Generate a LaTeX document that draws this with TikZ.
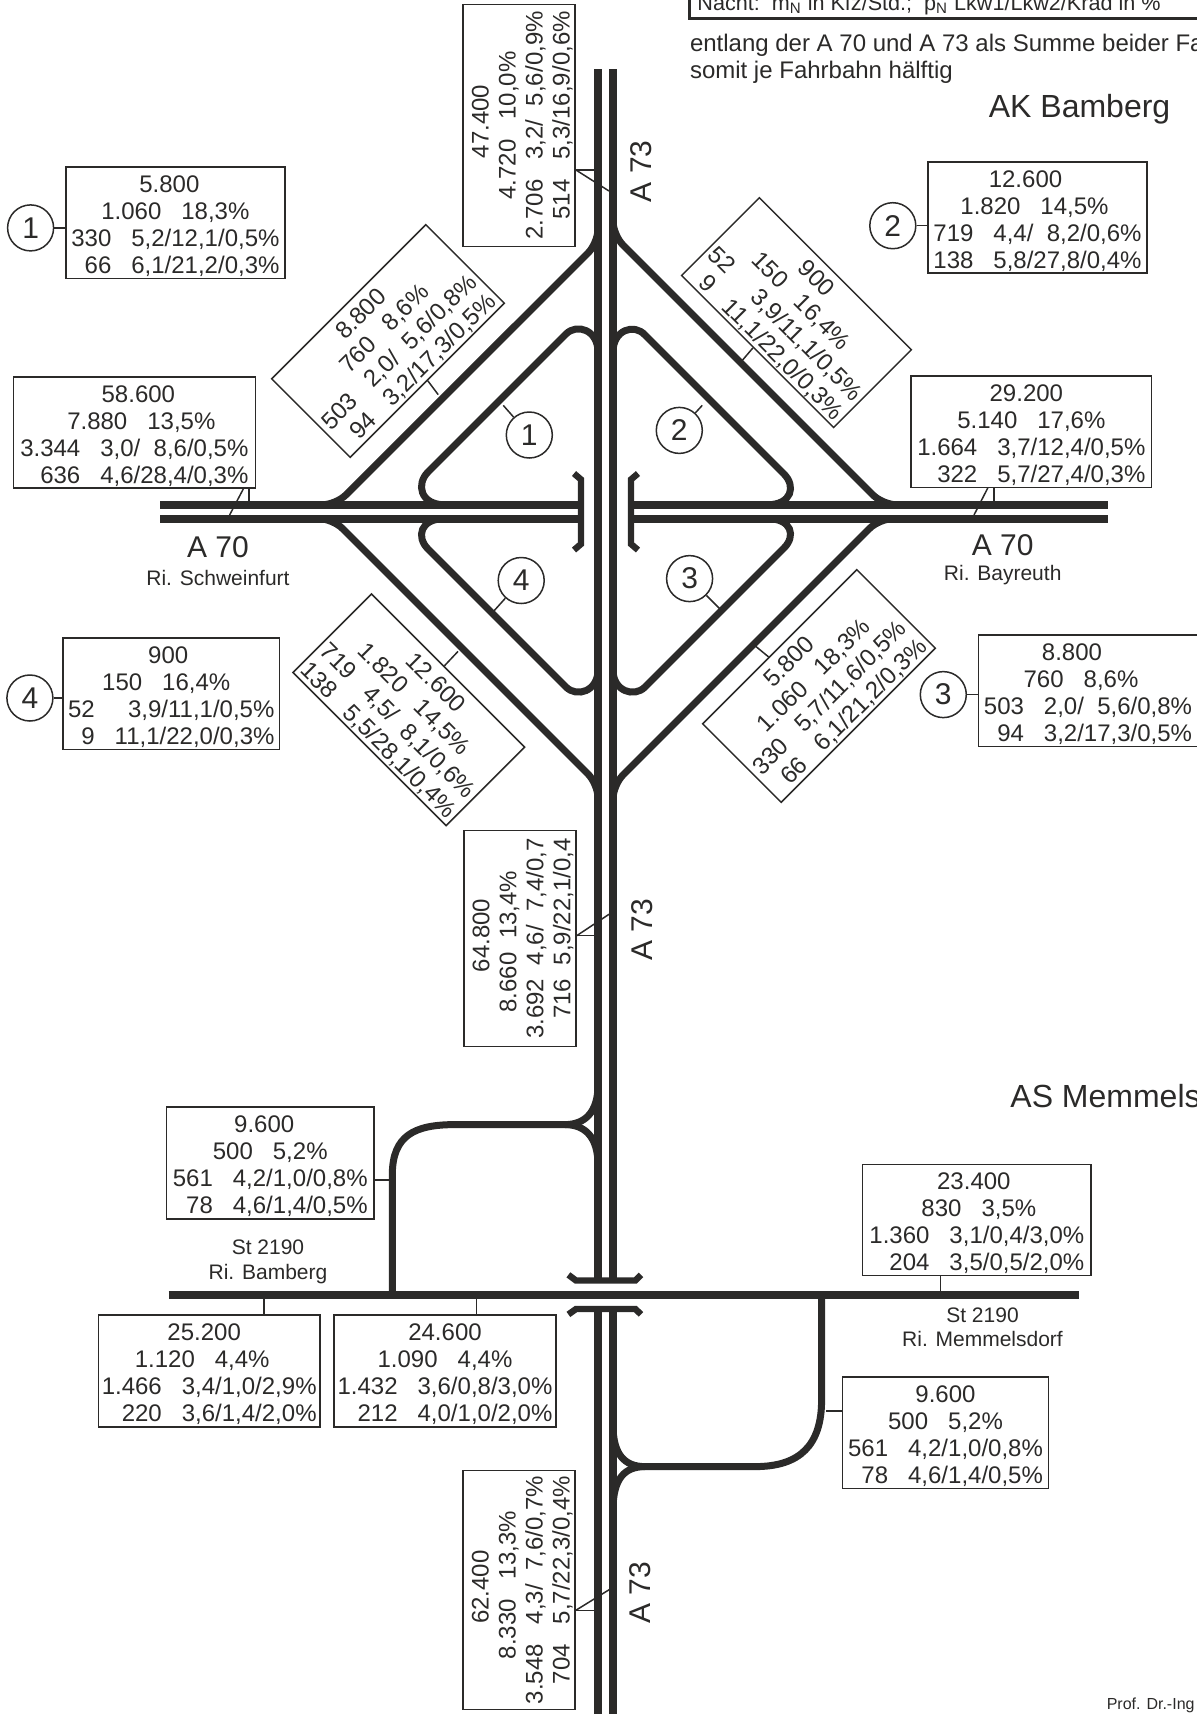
\documentclass[tikz,border=0pt]{standalone}
\usepackage{fontspec}
\setmainfont{Liberation Sans}
\usepackage{xcolor}
\usepackage{tikz}
\usetikzlibrary{calc}
\definecolor{strich}{RGB}{43,42,41}
\newcommand{\werte}[8][10pt]{%
  \raisebox{-5.3pt}[0pt][0pt]{\begin{tabular}{@{}r@{\hspace{#1}}l@{}}
    \multicolumn{2}{@{}c@{}}{#2}\\
    \multicolumn{2}{@{}c@{}}{#3\hspace{#1}#4}\\
    #5&#6\\
    #7&#8
  \end{tabular}}}
\tikzset{
  wertbox/.style 2 args={draw, line width=0.75pt, inner sep=0pt,
                  minimum width=#1*0.5pt, minimum height=#2*0.5pt,
                  font=\fontsize{12}{13.5}\selectfont},
  kreis/.style  ={draw, circle, line width=0.75pt, inner sep=0pt,
                  minimum size=23pt, font=\fontsize{15}{15}\selectfont},
  leit/.style   ={line width=0.75pt},
  fahrbahn/.style={line width=3.9pt},
  rampe/.style  ={line width=3.5pt},
  bruecke/.style={line width=3.2pt},
  titel/.style  ={inner sep=0pt, font=\fontsize{16}{19}\selectfont},
  strname/.style={inner sep=0pt, font=\fontsize{15}{18}\selectfont},
  ziel/.style   ={inner sep=0pt, font=\fontsize{10.5}{12.5}\selectfont},
  notiz/.style  ={inner sep=0pt, font=\fontsize{12}{14}\selectfont},
}
\begin{document}
\begin{tikzpicture}[x=0.5pt,y=-0.5pt,color=strich]
  \clip (0,0) rectangle (1197,1714);

  % A 73 und A 70
  \draw[fahrbahn](598,69)--(598,1280);\draw[fahrbahn](613,69)--(613,1280);
  \draw[fahrbahn](598,1310)--(598,1714);\draw[fahrbahn](613,1310)--(613,1714);
  \draw[fahrbahn](160,504.8)--(580.5,504.8);\draw[fahrbahn](160,518.6)--(580.5,518.6);
  \draw[fahrbahn](631,504.8)--(1108,504.8);\draw[fahrbahn](631,518.6)--(1108,518.6);
  \draw[fahrbahn](168.5,1294.8)--(1079,1294.8);

  % Bruecken
  \draw[bruecke](574,473.5)--(581,479.5)--(581,544)--(574,550);
  \draw[bruecke](638,473.5)--(631,479.5)--(631,544)--(638,550);
  \draw[bruecke](568.4,1274.8)--(576,1280.5)--(635.4,1280.5)--(641,1274.8);
  \draw[bruecke](568.4,1314.4)--(576,1309)--(635.4,1309)--(641,1314.4);

  % Rampen AK Bamberg
  \draw[rampe,rounded corners=7pt](598,200)--(598,243)--(336,504.8)--(300,504.8);
  \draw[rampe,rounded corners=7pt](613,200)--(613,235)--(882.8,504.8)--(915,504.8);
  \draw[rampe,rounded corners=7pt](300,518.6)--(332.6,518.6)--(598,784)--(598,820);
  \draw[rampe,rounded corners=7pt](915,518.6)--(879.4,518.6)--(613,785)--(613,820);
  \draw[rampe](598,365)--(598,352) .. controls (598,330) and (577,323) .. (566,334)--(428,472)
        .. controls (416,484) and (420,504.8) .. (445,504.8)--(470,504.8);
  \draw[rampe](613,365)--(613,352) .. controls (613,330) and (634,323) .. (645,335)--(784,474)
        .. controls (796,486) and (792,504.8) .. (767,504.8)--(745,504.8);
  \draw[rampe](470,518.6)--(445,518.6) .. controls (420,518.6) and (416,537) .. (428,549)--(566,687)
        .. controls (577,698) and (598,691) .. (598,670)--(598,650);
  \draw[rampe](745,518.6)--(767,518.6) .. controls (792,518.6) and (796,536) .. (784,548)--(645,687)
        .. controls (634,698) and (613,691) .. (613,670)--(613,650);

  % Rampen AS Memmelsdorf
  \draw[rampe](392.3,1295)--(392.3,1175) .. controls (392.3,1135) and (415,1124.6) .. (455,1124.6)--(565,1124.6);
  \draw[rampe](565,1124.6) .. controls (585,1124.6) and (598,1112) .. (598,1085);
  \draw[rampe](565,1124.6) .. controls (585,1124.6) and (598,1137) .. (598,1165);
  \draw[rampe](821.6,1295)--(821.6,1400) .. controls (821.6,1445) and (800,1466.6) .. (755,1466.6)--(645,1466.6);
  \draw[rampe](645,1466.6) .. controls (625,1466.6) and (613,1455) .. (613,1425);
  \draw[rampe](645,1466.6) .. controls (625,1466.6) and (613,1478) .. (613,1510);

  % Werte
  \node[wertbox={219.2}{111.6}] (b58h) at (175.4,222.8)
        {\werte{\hspace*{-6pt}5.800}{1.060}{18,3\%}{330}{5,2/12,1/0,5\%}{66}{6,1/21,2/0,3\%}};
  \node[wertbox={241.9}{111.4}] (w586) at (134.35,432.5)
        {\werte{\hspace*{4pt}58.600}{\hspace*{7pt}7.880}{13,5\%}{3.344}{3,0/\ \ 8,6/0,5\%}{636}{4,6/28,4/0,3\%}};
  \node[wertbox={242.1}{112.2},rotate=90] (n474) at (519.1,125.35)
        {\werte{\hspace*{4pt}47.400}{4.720}{10,0\%}{2.706}{3,2/\ \ 5,6/0,9\%}{514}{5,3/16,9/0,6\%}};
  \node[wertbox={219}{111.4}] (b126h) at (1037.5,217.5)
        {\werte{\hspace*{-12pt}12.600}{\hspace*{-3pt}1.820}{14,5\%}{719}{4,4/\ \ 8,2/0,6\%}{138}{5,8/27,8/0,4\%}};
  \node[wertbox={240.3}{111.5}] (o292) at (1031.35,431.75)
        {\werte{\hspace*{-5pt}29.200}{5.140}{17,6\%}{1.664}{3,7/12,4/0,5\%}{322}{5,7/27,4/0,3\%}};
  \node[wertbox={216.3}{111.7}] (b900) at (171.25,693.85)
        {\werte{\hspace*{-3pt}900}{\hspace*{-5pt}150}{16,4\%}{52}{\ \ 3,9/11,1/0,5\%}{9}{11,1/22,0/0,3\%}};
  \node[wertbox={219}{111.4}] (b88h) at (1088,690.6)
        {\werte{\hspace*{-16pt}8.800}{\hspace*{-7pt}760}{8,6\%}{503}{2,0/\ \ 5,6/0,8\%}{94}{3,2/17,3/0,5\%}};
  \node[wertbox={218}{111},rotate=45] (d88) at (388,341)
        {\werte{8.800}{\hspace*{6pt}760}{8,6\%}{503}{2,0/\ \ 5,6/0,8\%}{94}{3,2/17,3/0,5\%}};
  \node[wertbox={215}{110},rotate=-45] (d900) at (796.5,312.6)
        {\werte{\hspace*{-10pt}900}{\hspace*{-5pt}150}{16,4\%}{52}{\ \ 3,9/11,1/0,5\%}{9}{11,1/22,0/0,3\%}};
  \node[wertbox={218}{111},rotate=45] (d58) at (819,686)
        {\werte{\hspace*{-4pt}5.800}{\hspace*{4pt}1.060}{18,3\%}{330}{5,7/11,6/0,5\%}{66}{6,1/21,2/0,3\%}};
  \node[wertbox={216.5}{111},rotate=-45] (d126) at (408.8,709.8)
        {\werte{12.600}{\hspace*{-4pt}1.820}{14,5\%}{719}{4,5/\ \ 8,1/0,6\%}{138}{5,5/28,1/0,4\%}};
  \node[wertbox={216}{112},rotate=90] (s648) at (519.9,938.6)
        {\werte[6.7pt]{\hspace*{3pt}64.800}{\hspace*{-3pt}8.660}{13,4\%}{3.692}{4,6/\ \ 7,4/0,7}{716}{5,9/22,1/0,4}};
  \node[wertbox={207.5}{111.9}] (wa96) at (270.25,1163)
        {\werte{\hspace*{-6pt}9.600}{500}{5,2\%}{561}{4,2/1,0/0,8\%}{78}{4,6/1,4/0,5\%}};
  \node[wertbox={221.6}{111.8}] (w252) at (209.2,1371.1)
        {\werte{\hspace*{-5pt}25.200}{\hspace*{-7pt}1.120}{4,4\%}{1.466}{3,4/1,0/2,9\%}{220}{3,6/1,4/2,0\%}};
  \node[wertbox={222.3}{111.8}] (w246) at (445,1371.1)
        {\werte{24.600}{1.090}{4,4\%}{1.432}{3,6/0,8/3,0\%}{212}{4,0/1,0/2,0\%}};
  \node[wertbox={228.3}{111.3}] (o234) at (976.85,1220)
        {\werte{\hspace*{-3pt}23.400}{\hspace*{2pt}830}{3,5\%}{1.360}{3,1/0,4/3,0\%}{204}{3,5/0,5/2,0\%}};
  \node[wertbox={206.4}{111.4}] (oa96) at (945.5,1432.6)
        {\werte{9.600}{500}{5,2\%}{561}{4,2/1,0/0,8\%}{78}{4,6/1,4/0,5\%}};
  \node[wertbox={239.4}{111.8},rotate=90] (s624) at (519,1590)
        {\werte{\hspace*{3pt}62.400}{\hspace*{5pt}8.330}{13,3\%}{3.548}{4,3/\ \ 7,6/0,7\%}{704}{5,7/22,3/0,4\%}};

  % Kreise
  \node[kreis] (k1a) at (30.6,227.9) {1};
  \node[kreis] (k2a) at (892.8,225.7) {2};
  \node[kreis] (k3a) at (943.3,694.6) {3};
  \node[kreis] (k4a) at (29.9,698) {4};
  \node[kreis] (k1i) at (529.3,435) {1};
  \node[kreis] (k2i) at (679.3,430.4) {2};
  \node[kreis] (k3i) at (689.6,578.6) {3};
  \node[kreis] (k4i) at (521.2,580.5) {4};

  % Beschriftung
  \node[titel,anchor=base] (akb) at (1079.6,117) {AK Bamberg};
  \node[titel,anchor=base west] (asm) at (1010,1107) {AS Memmels};
  \node[strname,anchor=base] (a70w) at (218,557.6) {A 70};
  \node[ziel,anchor=base] (zsw) at (218,585) {Ri. Schweinfurt};
  \node[strname,anchor=base] (a70o) at (1002.7,555) {A 70};
  \node[ziel,anchor=base] (zby) at (1002.7,580.5) {Ri. Bayreuth};
  \node[strname,rotate=90] (a73o) at (641,171.4) {A 73};
  \node[strname,rotate=90] (a73m) at (641.9,929.5) {A 73};
  \node[strname,rotate=90] (a73u) at (640,1592.7) {A 73};
  \node[ziel,anchor=base] (stw) at (268,1254) {St 2190};
  \node[ziel,anchor=base] (zba) at (268,1279) {Ri. Bamberg};
  \node[ziel,anchor=base] (sto) at (982.5,1322.7) {St 2190};
  \node[ziel,anchor=base] (zme) at (982.5,1346.5) {Ri. Memmelsdorf};
  \node[inner sep=0pt,anchor=base west,font=\fontsize{8}{9}\selectfont] (prof) at (1106.4,1709) {Prof. Dr.-Ing};
  \node[notiz,anchor=base west] (nt1) at (689.6,51) {entlang der A 70 und A 73 als Summe beider Fa};
  \node[notiz,anchor=base west] (nt2) at (689.6,78) {somit je Fahrbahn hälftig};
  \node[inner sep=0pt,anchor=base west,font=\fontsize{10.8}{13}\selectfont] (nacht) at (697,10)
        {Nacht:\ \ m\textsubscript{N} in Kfz/Std.;\ \ p\textsubscript{N} Lkw1/Lkw2/Krad in \%};
  \coordinate (rahmenol) at (689.6,-4);
  \coordinate (rahmenul) at (689.6,18.6);
  \coordinate (rahmenur) at (1200,18.6);
  \draw[line width=1.2pt](rahmenol)--(rahmenul)--(rahmenur);

  % Anschluesse
  \coordinate (r88) at (438.2,394.6);
  \coordinate (r900) at (740.5,362.5);
  \coordinate (r58) at (755.8,646.4);
  \coordinate (r126) at (458,651.4);
  \draw[leit](d88.south)--(r88);\draw[leit](d900.264)--(r900);
  \draw[leit](d58.105)--(r58);\draw[leit](d126.96)--(r126);
  \coordinate (sl1) at (503.3,405.4);
  \coordinate (sl2) at (702.2,405.4);
  \coordinate (sl3) at (719.5,608.5);
  \coordinate (sl4) at (493.7,611.2);
  \draw[leit](k1i)--(sl1);\draw[leit](k2i)--(sl2);
  \draw[leit](k3i)--(sl3);\draw[leit](k4i)--(sl4);
  \draw[leit](k1a.east)--(k1a.east-|b58h.west);
  \draw[leit](k2a.east)--(k2a.east-|b126h.west);
  \draw[leit](k3a.east)--(k3a.east-|b88h.west);
  \draw[leit](k4a.east)--(k4a.east-|b900.west);
  \coordinate (w1) at (248.8,501);
  \coordinate (w2) at (229.6,515);
  \coordinate (w3) at (243.8,488);
  \draw[leit](w1|-w586.south)--(w1);\draw[leit](w3)--(w2);
  \coordinate (o1) at (993.9,501);
  \coordinate (o2) at (974,515);
  \coordinate (o3) at (988,487.5);
  \draw[leit](o1|-o292.south)--(o1);\draw[leit](o3)--(o2);
  \coordinate (n1) at (594,170);
  \coordinate (n2) at (609,191);
  \draw[leit](n474.south|-n1)--(n1);\draw[leit](n474.south|-n1)--(n2);
  \coordinate (s1) at (594,935.7);
  \coordinate (s2) at (609,914.3);
  \draw[leit](s648.south|-s1)--(s1);\draw[leit](s648.south|-s1)--(s2);
  \coordinate (u1) at (594,1610.4);
  \coordinate (u2) at (609.3,1589.6);
  \draw[leit](s624.south|-u1)--(u1);\draw[leit](s624.south|-u1)--(u2);
  \coordinate (q1) at (388.5,1180.1);
  \draw[leit](wa96.east|-q1)--(q1);
  \coordinate (q2) at (826,1411);
  \draw[leit](oa96.west|-q2)--(q2);
  \coordinate (q3) at (264.1,1295);
  \draw[leit](q3|-w252.north)--(q3);
  \coordinate (q4) at (476.5,1295);
  \draw[leit](q4|-w246.north)--(q4);
  \coordinate (q5) at (940.3,1295);
  \draw[leit](q5|-o234.south)--(q5);
\end{tikzpicture}
\end{document}
